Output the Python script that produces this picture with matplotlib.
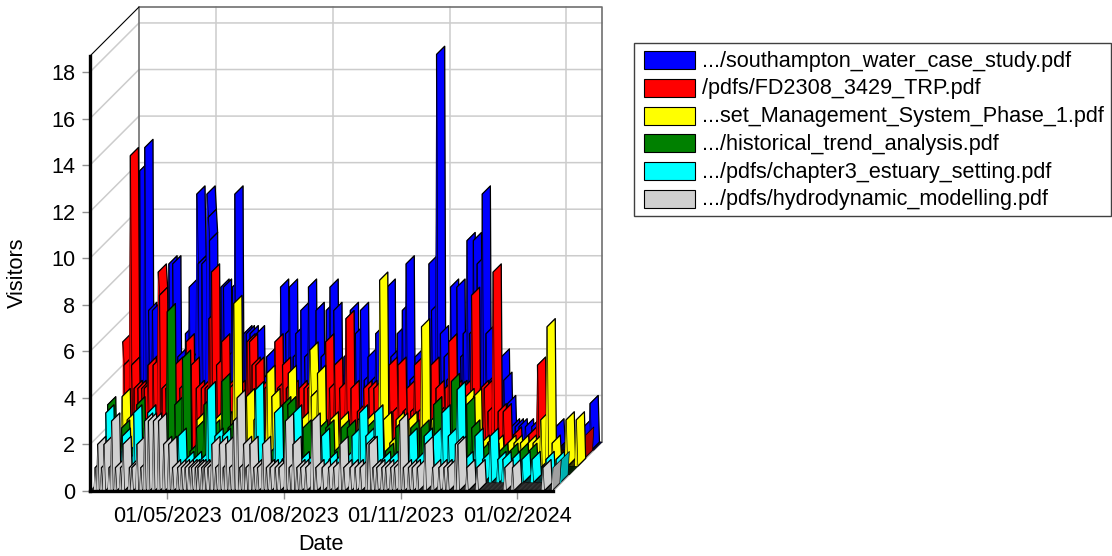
import numpy as np
import matplotlib
matplotlib.use("Agg")
import matplotlib.pyplot as plt
from matplotlib.collections import PolyCollection
from matplotlib.patches import Rectangle

plt.rcParams['font.family'] = ['Liberation Sans', 'DejaVu Sans']

W, H = 1112, 556

# (day counted from 01/03/2023, visitors); days not listed had none
blue_points = [(7, 12), (11, 13), (14, 6), (17, 6), (20, 4), (24, 3), (27, 3), (30, 8), (33, 8), (37, 4), (40, 3),
               (43, 5), (46, 7), (49, 4), (52, 11), (53, 8), (56, 8), (60, 11), (61, 10), (62, 9), (65, 4), (68, 5),
               (71, 7), (73, 7), (76, 4), (80, 7), (82, 11), (85, 4), (89, 5), (91, 5), (94, 5), (99, 5), (103, 3),
               (107, 4), (110, 3), (114, 3), (118, 7), (122, 5), (125, 7), (128, 4), (130, 5), (134, 6), (137, 4),
               (140, 7), (143, 4), (146, 6), (150, 4), (154, 6), (157, 7), (160, 6), (164, 3), (168, 4), (173, 6),
               (177, 5), (181, 6), (184, 3), (187, 4), (190, 3), (193, 5), (196, 3), (199, 4), (202, 7), (205, 4),
               (210, 5), (214, 6), (217, 8), (220, 3), (224, 4), (227, 3), (231, 4), (235, 8), (237, 6), (241, 17),
               (244, 5), (247, 4), (249, 3), (252, 7), (255, 4), (257, 7), (260, 4), (262, 5), (265, 9), (267, 5),
               (270, 9), (273, 8), (277, 11), (280, 5), (283, 3), (287, 3), (292, 4), (294, 3), (297, 2), (300, 1),
               (303, 1), (306, 1), (311, 1), (316, 1), (320, 1), (335, 1), (357, 1), (362, 2)]
red_points = [(0, 5), (1, 4), (3, 2), (6, 13), (7, 4), (9, 3), (12, 3), (15, 3), (17, 3), (20, 4), (24, 4), (28, 8),
              (29, 7), (31, 3), (34, 3), (38, 3), (41, 4), (45, 3), (47, 2), (50, 5), (54, 4), (58, 3), (62, 3),
              (65, 3), (68, 6), (70, 8), (74, 4), (78, 5), (81, 3), (84, 3), (87, 2), (90, 3), (94, 2), (98, 5),
              (100, 5), (102, 4), (105, 4), (108, 3), (112, 3), (116, 3), (120, 5), (122, 3), (126, 4), (129, 3),
              (132, 3), (136, 2), (139, 3), (143, 3), (146, 3), (149, 2), (152, 3), (156, 3), (160, 5), (163, 3),
              (167, 4), (171, 3), (176, 6), (180, 3), (185, 2), (190, 3), (194, 3), (198, 3), (201, 2), (204, 3),
              (207, 3), (210, 4), (213, 2), (217, 4), (221, 2), (224, 3), (227, 2), (230, 4), (233, 2), (236, 3),
              (240, 3), (243, 4), (247, 3), (250, 2), (254, 3), (257, 5), (261, 3), (265, 3), (268, 3), (272, 2),
              (275, 7), (279, 2), (282, 3), (285, 3), (288, 2), (292, 8), (296, 2), (300, 2), (308, 1), (320, 1),
              (327, 4), (365, 1)]
yellow_points = [(6, 3), (10, 2), (15, 1), (28, 1), (40, 1), (52, 1), (65, 2), (72, 2), (79, 2), (86, 2), (94, 7),
                 (98, 1), (104, 3), (110, 2), (115, 1), (120, 4), (124, 3), (130, 2), (137, 4), (147, 2), (154, 5),
                 (155, 3), (160, 4), (170, 2), (178, 2), (186, 1), (192, 2), (199, 2), (205, 2), (209, 8), (212, 2),
                 (217, 1), (222, 2), (227, 1), (232, 2), (236, 1), (242, 6), (250, 2), (258, 1), (266, 1), (272, 2),
                 (277, 3), (283, 3), (289, 1), (294, 1), (300, 1), (310, 1), (315, 1), (320, 1), (326, 1), (330, 1),
                 (336, 2), (341, 6), (345, 1), (356, 2), (364, 2)]
green_points = [(1, 3), (5, 1), (12, 2), (18, 1), (24, 3), (30, 2), (36, 1), (42, 2), (48, 7), (54, 3), (60, 5),
                (66, 1), (71, 2), (77, 3), (83, 2), (91, 4), (96, 2), (103, 1), (110, 1), (120, 1), (130, 1),
                (139, 3), (143, 3), (148, 2), (155, 2), (163, 1), (168, 2), (173, 2), (180, 1), (185, 2), (190, 2),
                (197, 1), (205, 2), (212, 1), (220, 1), (228, 2), (235, 1), (240, 2), (248, 2), (254, 1), (258, 3),
                (265, 2), (272, 4), (278, 2), (284, 3), (288, 2), (295, 1), (303, 1), (310, 1), (318, 1), (326, 1),
                (333, 1)]
cyan_points = [(2, 1), (6, 3), (12, 1), (19, 2), (24, 1), (28, 3), (33, 1), (39, 3), (47, 1), (55, 1), (63, 2),
               (69, 1), (75, 1), (81, 1), (86, 4), (92, 2), (98, 2), (105, 1), (112, 1), (118, 1), (124, 4),
               (130, 1), (139, 3), (145, 1), (154, 3), (160, 1), (166, 1), (171, 1), (176, 2), (182, 1), (188, 1),
               (194, 1), (200, 2), (206, 3), (211, 2), (218, 3), (224, 1), (230, 1), (238, 1), (245, 2), (251, 1),
               (257, 2), (264, 2), (271, 3), (276, 2), (283, 4), (289, 1), (297, 2), (303, 1), (309, 2), (315, 1),
               (319, 1), (326, 1), (334, 1), (342, 1), (353, 1), (361, 1), (365, 1)]
gray_points = [(4, 1), (6, 2), (9, 1), (11, 2), (15, 1), (17, 3), (20, 1), (24, 1), (26, 2), (31, 1), (33, 1), (37, 2),
               (40, 1), (43, 3), (46, 3), (50, 3), (54, 3), (58, 2), (62, 2), (65, 1), (69, 1), (72, 1), (75, 1),
               (78, 1), (80, 1), (83, 1), (85, 1), (88, 1), (90, 1), (93, 1), (96, 2), (99, 1), (102, 2), (105, 1),
               (107, 2), (110, 1), (113, 3), (116, 4), (118, 1), (121, 2), (123, 1), (126, 2), (129, 1), (132, 1),
               (136, 2), (139, 1), (142, 1), (146, 1), (149, 1), (154, 3), (157, 1), (160, 2), (163, 1), (166, 1),
               (170, 1), (175, 3), (178, 1), (183, 1), (188, 1), (192, 1), (197, 2), (200, 1), (205, 1), (209, 1),
               (213, 1), (218, 2), (220, 2), (223, 1), (226, 1), (230, 1), (233, 1), (237, 1), (240, 1), (244, 3),
               (247, 1), (251, 1), (254, 1), (258, 1), (264, 2), (270, 1), (275, 1), (279, 1), (282, 1), (288, 2),
               (290, 2), (297, 1), (305, 1), (327, 1), (333, 1), (357, 1), (365, 1)]

n_days = 365
x_ticks = [61, 153, 245, 337]
x_labels = ['01/05/2023', '01/08/2023', '01/11/2023', '01/02/2024']
y_ticks = [0, 2, 4, 6, 8, 10, 12, 14, 16, 18]

# front row first
series = [
    ('.../pdfs/hydrodynamic_modelling.pdf', gray_points, '#d0d0d0', '#a0a0a0'),
    ('.../pdfs/chapter3_estuary_setting.pdf', cyan_points, '#00ffff', '#00b0b0'),
    ('.../historical_trend_analysis.pdf', green_points, '#008000', '#005800'),
    ('...set_Management_System_Phase_1.pdf', yellow_points, '#ffff00', '#b0b000'),
    ('/pdfs/FD2308_3429_TRP.pdf', red_points, '#ff0000', '#b00000'),
    ('.../southampton_water_case_study.pdf', blue_points, '#0000ff', '#0000b0'),
]

FONT = 15.6

fig = plt.figure(figsize=(W / 100, H / 100), dpi=100)
left, right, base, top = 90, 553, 491, 56
ax = fig.add_axes([left / W, 1 - base / H, (right - left) / W, (base - top) / H])
ax.patch.set_visible(False)
ax.set_xlim(0, n_days)
px_y = 23.28
ymax = (base - top) / px_y
ax.set_ylim(0, ymax)

px_x = (right - left) / n_days
row_px = 49.0 / 6


def project(day, val, depth):
    # oblique projection: depth in rows, back of the box is 6
    return day + depth * row_px / px_x, val + depth * row_px / px_y


grid = '#cccccc'
for t in y_ticks:
    xs, ys = zip(project(0, t, 0), project(0, t, 6), project(n_days, t, 6))
    ax.plot(xs, ys, color=grid, lw=1.1, zorder=1, clip_on=False)
for t in x_ticks:
    xs, ys = zip(project(t, 0, 6), project(t, ymax, 6))
    ax.plot(xs, ys, color=grid, lw=1.1, zorder=1, clip_on=False)

# box outline
xs, ys = zip(project(0, 0, 6), project(0, ymax, 6), project(n_days, ymax, 6), project(n_days, 0, 6))
ax.plot(xs, ys, color='#707070', lw=1.2, zorder=2, clip_on=False)
xs, ys = zip(project(0, ymax, 0), project(0, ymax, 6))
ax.plot(xs, ys, color='black', lw=0.8, zorder=2, clip_on=False)
xs, ys = zip(project(n_days, 0, 0), project(n_days, 0, 6))
ax.plot(xs, ys, color='#909090', lw=1.0, zorder=2, clip_on=False)

for row in range(5, -1, -1):
    name, points, col, dark = series[row]
    daily = np.zeros(n_days + 1)
    for day, val in points:
        daily[day] = val
    floor, polys, faces, widths = [], [], [], []
    for d in range(n_days):
        v0, v1 = daily[d], daily[d + 1]
        # ribbon top between this day and the next
        quad = [project(d, v0, row), project(d + 1, v1, row),
                project(d + 1, v1, row + 1), project(d, v0, row + 1)]
        if v0 == 0 and v1 == 0:
            floor.append(quad)
            continue
        polys.append(quad)
        faces.append(dark if v1 > v0 else col)
        widths.append(0.5 if v1 > v0 else 0.9)
        # front face under it, no outline or it turns into a black spike
        polys.append([project(d, 0, row), project(d, v0, row),
                      project(d + 1, v1, row), project(d + 1, 0, row)])
        faces.append(col)
        widths.append(0)
    z = 10 + 2 * (5 - row)
    ax.add_collection(PolyCollection(floor, facecolors=col, edgecolors='black', linewidths=0.45,
                                     zorder=z, clip_on=False))
    ax.add_collection(PolyCollection(polys, facecolors=faces, edgecolors='black', linewidths=widths,
                                     zorder=z + 1, clip_on=False))

for s in ('top', 'right'):
    ax.spines[s].set_visible(False)
for s in ('left', 'bottom'):
    ax.spines[s].set_linewidth(2.4)
    ax.spines[s].set_color('black')
    ax.spines[s].set_zorder(30)

ax.set_xticks(x_ticks, x_labels)
ax.set_yticks(y_ticks)
ax.tick_params(axis='both', length=5.5, width=1, color='#909090', labelsize=FONT, pad=5)
ax.set_xlabel('Date', fontsize=FONT, labelpad=5)
fig.text(17 / W, 1 - 273 / H, 'Visitors', rotation=90, fontsize=FONT, ha='center', va='center')

# legend box, newest series on top
fig.patches.append(Rectangle((634 / W, 1 - 216 / H), 477 / W, 173 / H, transform=fig.transFigure,
                             facecolor='white', edgecolor='#404040', linewidth=1))
for i, (name, points, col, dark) in enumerate(reversed(series)):
    yc = 60 + i * 27.8
    fig.patches.append(Rectangle((644 / W, 1 - (yc + 9) / H), 51 / W, 18 / H, transform=fig.transFigure,
                                 facecolor=col, edgecolor='black', linewidth=0.8))
    fig.text(702 / W, 1 - (yc + 1) / H, name, fontsize=FONT, ha='left', va='center')

fig.savefig('out.png', dpi=100)
